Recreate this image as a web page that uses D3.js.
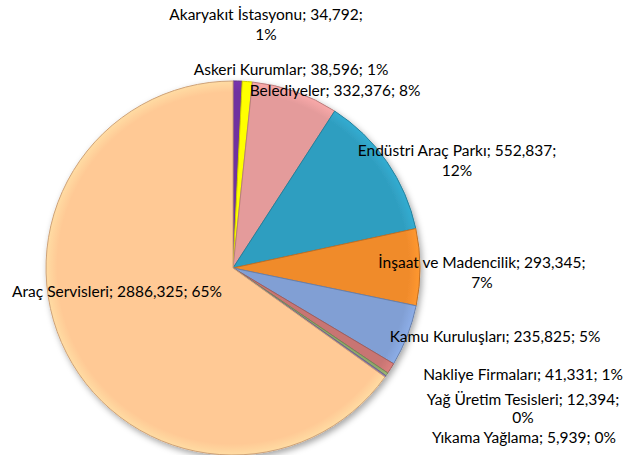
<!DOCTYPE html>
<html>
<head>
<meta charset="utf-8">
<script src="https://cdn.jsdelivr.net/npm/d3@7"></script>
<style>
  body { margin: 0; background: #fff; }
  text { font-family: Lato, "Open Sans", sans-serif; font-size: 15.5px; fill: #000; }
</style>
</head>
<body>
<div id="chart"></div>
<script>
// categories and values, clockwise from 12 o'clock
const categories = ["Akaryakıt İstasyonu", "Askeri Kurumlar", "Belediyeler", "Endüstri Araç Parkı",
  "İnşaat ve Madencilik", "Kamu Kuruluşları", "Nakliye Firmaları", "Yağ Üretim Tesisleri",
  "Yıkama Yağlama", "Araç Servisleri"];
const values = [34792, 38596, 332376, 552837, 293345, 235825, 41331, 12394, 5939, 2886325];
const valueLabels = ["34,792", "38,596", "332,376", "552,837", "293,345", "235,825", "41,331", "12,394", "5,939", "2886,325"];
const percentLabels = ["1%", "1%", "8%", "12%", "7%", "5%", "1%", "0%", "0%", "65%"];

const colors = ["#7030a0", "#ffff00", "#e49b9b", "#2f9ec0", "#f08b2c", "#819fd4",
  "#c87573", "#8fa86a", "#8a78b0", "#ffc995"];

// label layout: centre x, first baseline y, second line offset (0 = one line)
const labelLayout = [
  [266, 20, 20], [291, 75, 0], [335, 96, 0], [457, 156, 20],
  [482, 268, 20], [495, 342, 0], [523, 380, 0], [523, 405, 18],
  [524, 443, 0], [117, 297, 0]
];

const width = 625, height = 455;
const cx = 233, cy = 268, radius = 187;

const svg = d3.select("#chart").append("svg")
  .attr("width", width)
  .attr("height", height);

const defs = svg.append("defs");
const shadow = defs.append("filter").attr("id", "shadow")
  .attr("x", "-20%").attr("y", "-20%").attr("width", "140%").attr("height", "140%");
shadow.append("feDropShadow")
  .attr("dx", 2).attr("dy", 3).attr("stdDeviation", 3)
  .attr("flood-color", "#000").attr("flood-opacity", 0.35);

// soft bevel: lighter rim near the edge
colors.forEach((c, i) => {
  const grad = defs.append("radialGradient").attr("id", "g" + i)
    .attr("gradientUnits", "userSpaceOnUse")
    .attr("cx", 0).attr("cy", 0).attr("r", radius);
  grad.append("stop").attr("offset", "0%").attr("stop-color", c);
  grad.append("stop").attr("offset", "94%").attr("stop-color", c);
  grad.append("stop").attr("offset", "100%").attr("stop-color", d3.color(c).brighter(0.25));
});

const pie = d3.pie().sort(null).value(d => d)(values);
const arc = d3.arc().innerRadius(0).outerRadius(radius);

const g = svg.append("g")
  .attr("transform", `translate(${cx},${cy})`)
  .attr("filter", "url(#shadow)");

g.selectAll("path")
  .data(pie)
  .join("path")
    .attr("d", arc)
    .attr("fill", (d, i) => `url(#g${i})`)
    .attr("stroke", (d, i) => d3.color(colors[i]).darker(0.6))
    .attr("stroke-width", 1)
    .attr("stroke-linejoin", "round");

const labels = svg.append("g");
categories.forEach((c, i) => {
  const [x, y, dy] = labelLayout[i];
  const t = labels.append("text")
    .attr("x", x).attr("y", y)
    .attr("text-anchor", "middle");
  if (dy) {
    t.append("tspan").attr("x", x).text(`${c}; ${valueLabels[i]};`);
    t.append("tspan").attr("x", x).attr("dy", dy).text(percentLabels[i]);
  } else {
    t.text(`${c}; ${valueLabels[i]};  ${percentLabels[i]}`);
  }
});
</script>
</body>
</html>
